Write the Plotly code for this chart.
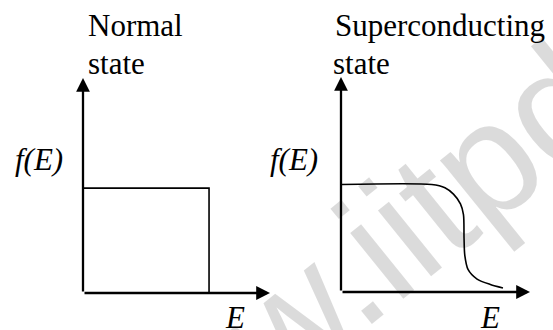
import plotly.graph_objects as go

# Fermi function sketch: normal state (step) and superconducting state (smeared)
normal_E = [0, 0.674, 0.674]
normal_f = [0.488, 0.488, 0]

super_E = [0, 0.48, 0.55, 0.595, 0.632, 0.648, 0.651, 0.655, 0.672, 0.72, 0.79, 0.857]
super_f = [0.5, 0.5, 0.485, 0.455, 0.41, 0.36, 0.25, 0.17, 0.105, 0.06, 0.035, 0.019]

titles = ["Normal", "state", "Superconducting", "state"]
y_label = "<i>f(E)</i>"
x_label = "<i>E</i>"
watermark = "www.iitpdf.com"

W, H = 553, 330
SERIF = "Liberation Serif, Times New Roman, Times, serif"


def px(x):
    return x / W


def py(y):
    return 1 - y / H


fig = go.Figure()

fig.add_trace(go.Scatter(
    x=normal_E, y=normal_f, mode="lines",
    line=dict(color="black", width=1.6),
    xaxis="x", yaxis="y", hoverinfo="skip",
))
fig.add_trace(go.Scatter(
    x=super_E, y=super_f, mode="lines",
    line=dict(color="black", width=1.6, shape="spline", smoothing=0.8),
    xaxis="x2", yaxis="y2", hoverinfo="skip",
))

axis_off = dict(visible=False, range=[0, 1], fixedrange=True)

annotations = []

# watermark, faint
annotations.append(dict(
    text=watermark, xref="paper", yref="paper",
    x=px(477), y=py(167), xanchor="center", yanchor="middle",
    showarrow=False, textangle=-39,
    font=dict(family="Liberation Sans, Arial, sans-serif", size=160,
              color="rgba(0,0,0,0.14)"),
))

# axes with arrowheads
for xr, yr in [("x", "y"), ("x2", "y2")]:
    annotations.append(dict(
        x=1, y=0, ax=0, ay=0, xref=xr, yref=yr, axref=xr, ayref=yr,
        showarrow=True, arrowhead=2, arrowsize=1.2, arrowwidth=2.3,
        arrowcolor="black", text="",
    ))
    annotations.append(dict(
        x=0, y=1, ax=0, ay=0, xref=xr, yref=yr, axref=xr, ayref=yr,
        showarrow=True, arrowhead=2, arrowsize=1.2, arrowwidth=2.3,
        arrowcolor="black", text="",
    ))

text_font = dict(family=SERIF, size=31, color="black")
labels = [
    (titles[0], 86, 25.5),
    (titles[1], 86, 63.5),
    (titles[2], 333, 25.5),
    (titles[3], 331, 63.5),
    (y_label, 13, 159.5),
    (y_label, 268, 159.5),
    (x_label, 223, 317.5),
    (x_label, 478, 317.5),
]
for txt, x0, yc in labels:
    annotations.append(dict(
        text=txt, xref="paper", yref="paper", x=px(x0), y=py(yc),
        xanchor="left", yanchor="middle", showarrow=False, font=text_font,
    ))

fig.update_layout(
    width=W, height=H,
    margin=dict(l=0, r=0, t=0, b=0),
    paper_bgcolor="white", plot_bgcolor="white",
    showlegend=False,
    xaxis=dict(axis_off, domain=[px(83), px(270)], anchor="y"),
    yaxis=dict(axis_off, domain=[py(293), py(78)], anchor="x"),
    xaxis2=dict(axis_off, domain=[px(341), px(530)], anchor="y2"),
    yaxis2=dict(axis_off, domain=[py(292), py(77)], anchor="x2"),
    annotations=annotations,
)

fig.write_html(
    "out.html",
    config=dict(displayModeBar=False),
    post_script="document.body.style.margin = '0px';",
)
